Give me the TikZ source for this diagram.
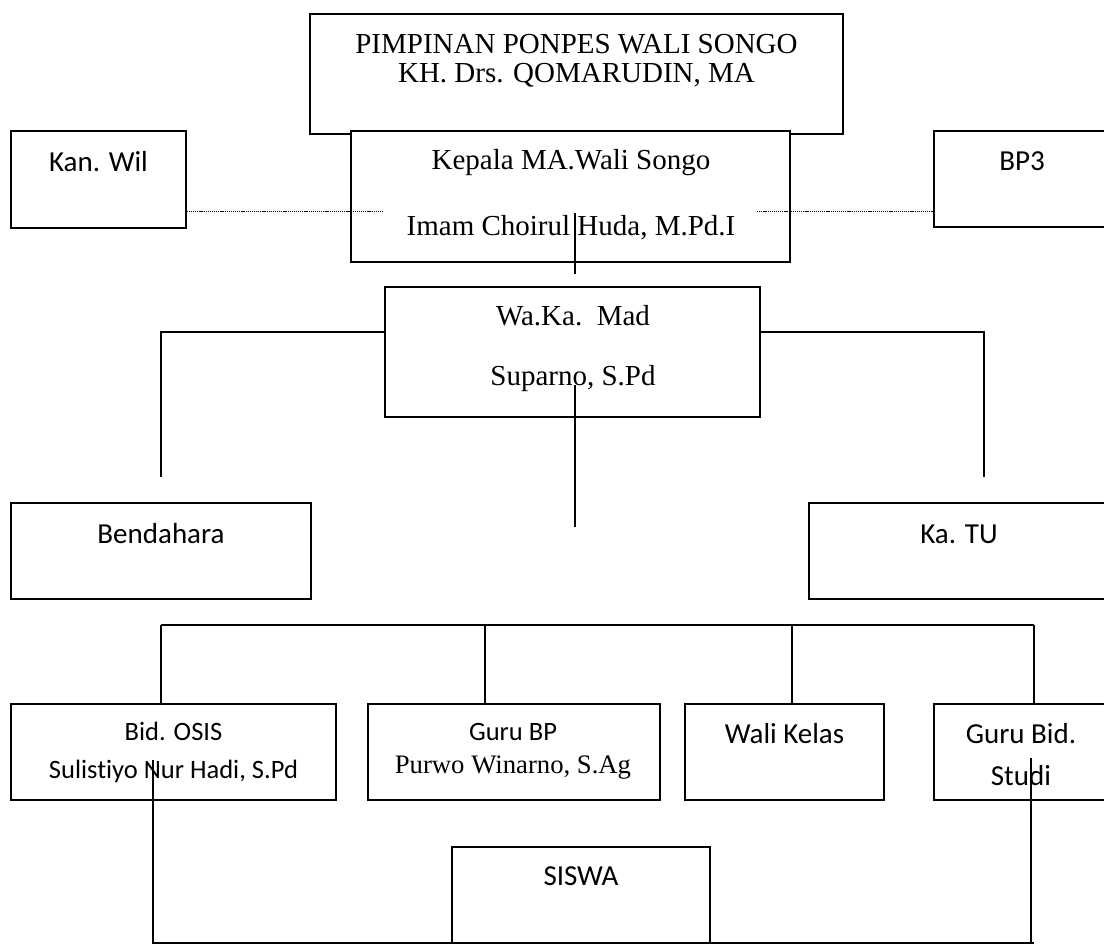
\documentclass[tikz,border=0pt]{standalone}
\usepackage{fontspec}
\setmainfont{Liberation Serif}
\newfontfamily\calibri[Ligatures=NoCommon]{Carlito}
\begin{document}
\begin{tikzpicture}[x=1pt,y=-1pt,
  box/.style={draw=black,fill=white,line width=1.4pt,rectangle,inner sep=0pt},
  conn/.style={draw=black,line width=1.2pt},
  dotline/.style={draw=black,line width=1pt,dash pattern=on 1.2pt off 0.9pt},
  ser/.style={anchor=base,inner sep=0pt,font=\fontsize{29}{34}\selectfont},
  sans/.style={anchor=base,inner sep=0pt,font=\calibri\fontsize{29}{34}\selectfont},
  sanss/.style={anchor=base,inner sep=0pt,font=\calibri\fontsize{26.5}{32}\selectfont},
  sers/.style={anchor=base,inner sep=0pt,font=\fontsize{26.7}{32}\selectfont}]
\useasboundingbox (0,0) rectangle (1104,946);
% boxes
\node[box,minimum width=533pt,minimum height=120pt] (top) at (576.5,74) {};
\node[box,minimum width=439pt,minimum height=131pt] (kep) at (570.5,196.5) {};
\node[box,minimum width=175pt,minimum height=97pt] (kan) at (98.5,179.5) {};
\node[box,minimum width=174pt,minimum height=96pt] (bp3) at (1021,179) {};
\node[box,minimum width=375pt,minimum height=130pt] (waka) at (572.5,352) {};
\node[box,minimum width=300pt,minimum height=96pt] (bend) at (161,551) {};
\node[box,minimum width=300pt,minimum height=96pt] (katu) at (959,551) {};
\node[box,minimum width=325pt,minimum height=96pt] (osis) at (173.5,752) {};
\node[box,minimum width=292pt,minimum height=96pt] (gurubp) at (514,752) {};
\node[box,minimum width=199pt,minimum height=96pt] (wali) at (784.5,752) {};
\node[box,minimum width=174pt,minimum height=96pt] (gurubid) at (1021,752) {};
\node[box,minimum width=258pt,minimum height=96pt] (siswa) at (581,895) {};
% texts
\node[ser] (t1) at (576.5,53) {PIMPINAN PONPES WALI SONGO};
\node[ser] (t2) at (576.5,82) {KH. Drs. QOMARUDIN, MA};
\node[ser] (t3) at (571,169) {Kepala MA.Wali Songo};
\node[ser] (t4) at (571,235) {Imam Choirul Huda, M.Pd.I};
\node[sans] (t5) at (98.5,171) {Kan. Wil};
\node[sans] (t6) at (1022,170) {BP3};
\node[ser] (t7) at (573,325) {Wa.Ka.\ \ Mad};
\node[ser] (t8) at (573,385) {Suparno, S.Pd};
\node[sans] (t9) at (161,543) {Bendahara};
\node[sans] (t10) at (959,543) {Ka. TU};
\node[sanss] (t11) at (173.5,740) {Bid. OSIS};
\node[sanss] (t12) at (173.5,778) {Sulistiyo Nur Hadi, S.Pd};
\node[sanss] (t13) at (513,740) {Guru BP};
\node[sers] (t14) at (513,773) {Purwo Winarno, S.Ag};
\node[sans] (t15) at (784.5,743) {Wali Kelas};
\node[sans] (t16) at (1021,743) {Guru Bid.};
\node[sans] (t17) at (1021,785) {Studi};
\node[sans] (t18) at (581,885) {SISWA};
% coordinates
\coordinate (dl) at (383,211);
\coordinate (dr) at (757,211);
\coordinate (k1) at (575,213);
\coordinate (k2) at (575,274);
\coordinate (armY) at (0,332);
\coordinate (al) at (161,477);
\coordinate (ar) at (984,477);
\coordinate (c1) at (575,385);
\coordinate (c2) at (575,527);
\coordinate (b1) at (161,625);
\coordinate (b2) at (485,625);
\coordinate (b3) at (792,625);
\coordinate (b4) at (1034,625);
\coordinate (v1) at (153,760);
\coordinate (v2) at (1031,758);
\coordinate (e1) at (153,943);
\coordinate (e2) at (1034,943);
% connectors
\draw[dotline] (kan.east |- dl) -- (dl);
\draw[dotline] (dr) -- (bp3.west |- dr);
\draw[conn] (k1) -- (k2);
\draw[conn] (waka.west |- armY) -| (al);
\draw[conn] (waka.east |- armY) -| (ar);
\draw[conn] (c1) -- (c2);
\draw[conn] (b1) -- (b4);
\draw[conn] (b1) -- (b1 |- osis.north);
\draw[conn] (b2) -- (b2 |- gurubp.north);
\draw[conn] (b3) -- (b3 |- wali.north);
\draw[conn] (b4) -- (b4 |- gurubid.north);
\draw[conn] (v1) -- (e1) -- (e2);
\draw[conn] (v2) -- (v2 |- e2);
\end{tikzpicture}
\end{document}
